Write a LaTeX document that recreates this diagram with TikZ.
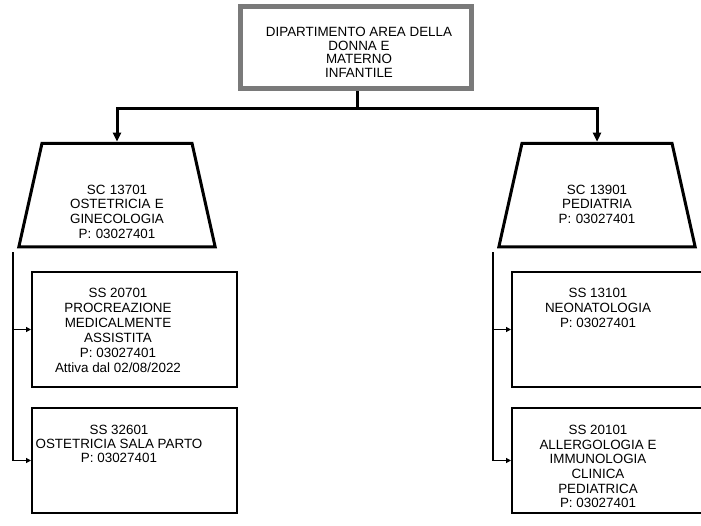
\documentclass[tikz,border=0pt]{standalone}
\usepackage{fontspec}
\setmainfont{Liberation Sans}
\usepackage{tikz}
\usetikzlibrary{arrows.meta,shapes.geometric}
\definecolor{orggray}{RGB}{122,122,122}
\tikzstyle{conn} = [line width=3pt,->,>={Triangle[length=9pt,width=8pt]}]
\tikzstyle{rail} = [line width=1.9pt,->,>={Triangle[length=5pt,width=5pt]}]
\tikzstyle{unit} = [draw, line width=3pt, shape=trapezium, trapezium left angle=77.4, trapezium right angle=77.4, text width=150pt, align=center, inner sep=0pt, text height=50.8pt, text depth=52.7pt, font=\fontsize{13.4}{14.7}\selectfont]
\tikzstyle{subunit} = [draw, line width=2pt, rectangle, minimum width=205pt, inner sep=0pt]
\tikzstyle{txt} = [anchor=north, align=center, inner sep=0pt]

\begin{document}
\begin{tikzpicture}[x=1pt,y=-1pt]
\useasboundingbox (0,0) rectangle (701,525);

% Department box
\node[draw=orggray, line width=5pt, minimum width=231pt, minimum height=82pt] (dip) at (355.5,47.5) {};
\node[txt, font=\fontsize{13.4}{13.4}\selectfont] (dip-txt) at (359,27.3) {DIPARTIMENTO AREA DELLA\\DONNA E\\MATERNO\\INFANTILE};

% Complex units
\node[unit] (sc1) at (117,195) {SC 13701\\OSTETRICIA E\\GINECOLOGIA\\P: 03027401};
\node[unit] (sc2) at (597,195) {SC 13901\\PEDIATRIA\\P: 03027401};

% Connectors from the department
\coordinate (split) at (357,108);
\draw[line width=3pt] (dip.south -| split) -- (split);
\draw[conn] (split) -| (sc1.north);
\draw[conn] (split) -| (sc2.north);

% Simple units - left
\node[subunit, minimum height=115pt] (ss1) at (134.5,329.5) {};
\node[subunit, minimum height=105pt] (ss2) at (134.5,460.5) {};
\node[txt, font=\fontsize{13.4}{15}\selectfont] (ss1-txt) at (118,288.2) {SS 20701\\PROCREAZIONE\\MEDICALMENTE\\ASSISTITA\\P: 03027401\\Attiva dal 02/08/2022};
\node[txt, font=\fontsize{13.4}{14}\selectfont] (ss2-txt) at (119,425.2) {SS 32601\\OSTETRICIA SALA PARTO\\P: 03027401};

% Simple units - right
\node[subunit, minimum height=115pt] (ss3) at (614.5,329.5) {};
\node[subunit, minimum height=105pt] (ss4) at (614.5,460.5) {};
\node[txt, font=\fontsize{13.4}{15}\selectfont] (ss3-txt) at (598,288.2) {SS 13101\\NEONATOLOGIA\\P: 03027401};
\node[txt, font=\fontsize{13.4}{14.6}\selectfont] (ss4-txt) at (598,425.2) {SS 20101\\ALLERGOLOGIA E\\IMMUNOLOGIA\\CLINICA\\PEDIATRICA\\P: 03027401};

% Rails
\coordinate (l-rail) at (13,252);
\coordinate (r-rail) at (493,252);
\draw[rail] (l-rail) |- (ss1.west);
\draw[rail] (l-rail) |- (ss2.west);
\draw[rail] (r-rail) |- (ss3.west);
\draw[rail] (r-rail) |- (ss4.west);
\end{tikzpicture}
\end{document}
